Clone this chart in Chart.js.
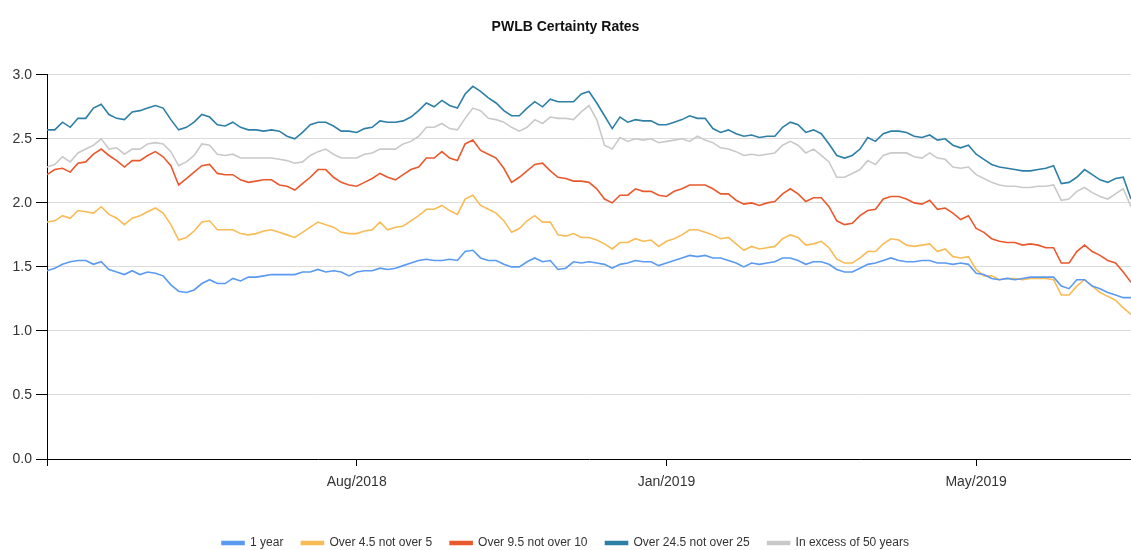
<!DOCTYPE html>
<html>
<head>
<meta charset="utf-8">
<script src="https://cdn.jsdelivr.net/npm/chart.js@4.4.1/dist/chart.umd.min.js"></script>
<style>
  html, body { margin: 0; padding: 0; background: #fff; }
  canvas { display: block; }
</style>
</head>
<body>
<canvas id="pwlb" width="1131" height="550"></canvas>
<script>
// ----- data (one value per sample) -----
const tickPositions = [0, 40, 80, 120];
const tickLabels = ['', 'Aug/2018', 'Jan/2019', 'May/2019'];
const yTicks = [0, 0.5, 1, 1.5, 2, 2.5, 3];

const seriesNames = ['1 year', 'Over 4.5 not over 5', 'Over 9.5 not over 10', 'Over 24.5 not over 25', 'In excess of 50 years'];
const seriesColors = ['#5a9af0', '#f9bb55', '#e9592d', '#2d7fa6', '#c9c9c9'];

const oneYear = [
  1.47, 1.49, 1.52, 1.54, 1.55, 1.55, 1.52, 1.54, 1.48, 1.46,
  1.44, 1.47, 1.44, 1.46, 1.45, 1.43, 1.36, 1.31, 1.30, 1.32,
  1.37, 1.40, 1.37, 1.37, 1.41, 1.39, 1.42, 1.42, 1.43, 1.44,
  1.44, 1.44, 1.44, 1.46, 1.46, 1.48, 1.46, 1.47, 1.46, 1.43,
  1.46, 1.47, 1.47, 1.49, 1.48, 1.49, 1.51, 1.53, 1.55, 1.56,
  1.55, 1.55, 1.56, 1.55, 1.62, 1.63, 1.57, 1.55, 1.55, 1.52,
  1.50, 1.50, 1.54, 1.57, 1.54, 1.55, 1.48, 1.49, 1.54, 1.53,
  1.54, 1.53, 1.52, 1.49, 1.52, 1.53, 1.55, 1.54, 1.54, 1.51,
  1.53, 1.55, 1.57, 1.59, 1.58, 1.59, 1.57, 1.57, 1.55, 1.53,
  1.50, 1.53, 1.52, 1.53, 1.54, 1.57, 1.57, 1.55, 1.52, 1.54,
  1.54, 1.52, 1.48, 1.46, 1.46, 1.49, 1.52, 1.53, 1.55, 1.57,
  1.55, 1.54, 1.54, 1.55, 1.55, 1.53, 1.53, 1.52, 1.53, 1.52,
  1.45, 1.44, 1.41, 1.40, 1.41, 1.40, 1.41, 1.42, 1.42, 1.42,
  1.42, 1.35, 1.33, 1.40, 1.40, 1.35, 1.33, 1.30, 1.28, 1.26,
  1.26
];

const over4_5 = [
  1.85, 1.86, 1.90, 1.88, 1.94, 1.93, 1.92, 1.97, 1.91, 1.88,
  1.83, 1.88, 1.90, 1.93, 1.96, 1.92, 1.83, 1.71, 1.73, 1.78,
  1.85, 1.86, 1.79, 1.79, 1.79, 1.76, 1.75, 1.76, 1.78, 1.79,
  1.77, 1.75, 1.73, 1.77, 1.81, 1.85, 1.83, 1.81, 1.77, 1.76,
  1.76, 1.78, 1.79, 1.85, 1.79, 1.81, 1.82, 1.86, 1.90, 1.95,
  1.95, 1.98, 1.94, 1.91, 2.03, 2.06, 1.98, 1.95, 1.92, 1.86,
  1.77, 1.80, 1.86, 1.90, 1.85, 1.85, 1.75, 1.74, 1.76, 1.73,
  1.73, 1.71, 1.68, 1.64, 1.69, 1.69, 1.72, 1.70, 1.71, 1.66,
  1.70, 1.72, 1.75, 1.79, 1.79, 1.77, 1.75, 1.72, 1.73, 1.68,
  1.63, 1.66, 1.64, 1.65, 1.66, 1.72, 1.75, 1.73, 1.67, 1.68,
  1.70, 1.65, 1.56, 1.53, 1.53, 1.57, 1.62, 1.62, 1.68, 1.72,
  1.71, 1.67, 1.66, 1.67, 1.68, 1.62, 1.64, 1.58, 1.57, 1.58,
  1.48, 1.43, 1.43, 1.40, 1.41, 1.41, 1.40, 1.41, 1.41, 1.41,
  1.40, 1.28, 1.28, 1.35, 1.40, 1.35, 1.30, 1.27, 1.24, 1.18,
  1.13
];

const over9_5 = [
  2.22, 2.26, 2.27, 2.24, 2.31, 2.32, 2.38, 2.42, 2.37, 2.33,
  2.28, 2.33, 2.33, 2.37, 2.40, 2.36, 2.29, 2.14, 2.19, 2.24,
  2.29, 2.30, 2.23, 2.22, 2.22, 2.18, 2.16, 2.17, 2.18, 2.18,
  2.14, 2.13, 2.10, 2.15, 2.20, 2.26, 2.26, 2.20, 2.16, 2.14,
  2.13, 2.16, 2.19, 2.23, 2.20, 2.18, 2.22, 2.26, 2.28, 2.35,
  2.35, 2.40, 2.35, 2.33, 2.46, 2.49, 2.41, 2.38, 2.35, 2.27,
  2.16, 2.20, 2.25, 2.30, 2.31, 2.25, 2.20, 2.19, 2.17, 2.17,
  2.16, 2.11, 2.03, 2.00, 2.06, 2.06, 2.11, 2.09, 2.09, 2.06,
  2.05, 2.09, 2.11, 2.14, 2.14, 2.14, 2.11, 2.07, 2.07, 2.02,
  1.99, 2.00, 1.98, 2.00, 2.01, 2.07, 2.11, 2.07, 2.01, 2.04,
  2.04, 1.97, 1.86, 1.83, 1.84, 1.90, 1.94, 1.95, 2.03, 2.05,
  2.05, 2.03, 2.00, 1.99, 2.02, 1.95, 1.96, 1.92, 1.87, 1.90,
  1.80, 1.77, 1.72, 1.70, 1.69, 1.69, 1.67, 1.68, 1.67, 1.65,
  1.65, 1.53, 1.53, 1.62, 1.67, 1.62, 1.59, 1.55, 1.53, 1.46,
  1.38
];

const over24_5 = [
  2.57, 2.57, 2.63, 2.59, 2.66, 2.66, 2.74, 2.77, 2.69, 2.66,
  2.65, 2.71, 2.72, 2.74, 2.76, 2.74, 2.65, 2.57, 2.59, 2.63,
  2.69, 2.67, 2.61, 2.60, 2.63, 2.59, 2.57, 2.57, 2.56, 2.57,
  2.56, 2.52, 2.50, 2.55, 2.61, 2.63, 2.63, 2.60, 2.56, 2.56,
  2.55, 2.58, 2.59, 2.64, 2.63, 2.63, 2.64, 2.67, 2.72, 2.78,
  2.75, 2.80, 2.76, 2.74, 2.85, 2.91, 2.87, 2.82, 2.78, 2.72,
  2.68, 2.68, 2.74, 2.79, 2.75, 2.81, 2.79, 2.79, 2.79, 2.85,
  2.87, 2.78, 2.68, 2.58, 2.67, 2.63, 2.65, 2.64, 2.64, 2.61,
  2.61, 2.63, 2.65, 2.68, 2.66, 2.66, 2.58, 2.55, 2.57, 2.54,
  2.52, 2.53, 2.51, 2.52, 2.52, 2.59, 2.63, 2.61, 2.55, 2.57,
  2.54, 2.46, 2.37, 2.35, 2.37, 2.42, 2.51, 2.48, 2.54, 2.56,
  2.56, 2.55, 2.52, 2.51, 2.53, 2.49, 2.50, 2.45, 2.43, 2.45,
  2.38, 2.34, 2.30, 2.28, 2.27, 2.26, 2.25, 2.25, 2.26, 2.27,
  2.29, 2.15, 2.16, 2.20, 2.26, 2.22, 2.18, 2.16, 2.19, 2.20,
  2.03
];

const over50 = [
  2.28, 2.30, 2.36, 2.32, 2.39, 2.42, 2.45, 2.50, 2.42, 2.43,
  2.38, 2.42, 2.42, 2.46, 2.47, 2.46, 2.40, 2.29, 2.32, 2.37,
  2.46, 2.45, 2.38, 2.37, 2.38, 2.35, 2.35, 2.35, 2.35, 2.35,
  2.34, 2.33, 2.31, 2.32, 2.37, 2.40, 2.42, 2.38, 2.35, 2.35,
  2.35, 2.38, 2.39, 2.42, 2.42, 2.42, 2.46, 2.48, 2.52, 2.59,
  2.59, 2.62, 2.58, 2.57, 2.66, 2.74, 2.72, 2.66, 2.65, 2.63,
  2.59, 2.56, 2.59, 2.65, 2.62, 2.67, 2.66, 2.66, 2.65, 2.71,
  2.76, 2.65, 2.45, 2.42, 2.51, 2.48, 2.50, 2.49, 2.50, 2.47,
  2.48, 2.49, 2.50, 2.48, 2.52, 2.49, 2.47, 2.43, 2.42, 2.40,
  2.37, 2.38, 2.37, 2.38, 2.39, 2.45, 2.48, 2.45, 2.39, 2.42,
  2.37, 2.32, 2.20, 2.20, 2.23, 2.26, 2.33, 2.30, 2.37, 2.39,
  2.39, 2.39, 2.36, 2.35, 2.39, 2.35, 2.34, 2.28, 2.27, 2.28,
  2.22, 2.19, 2.16, 2.14, 2.13, 2.13, 2.12, 2.12, 2.13, 2.13,
  2.14, 2.02, 2.03, 2.09, 2.12, 2.08, 2.05, 2.03, 2.07, 2.11,
  1.97
];

const allSeries = [oneYear, over4_5, over9_5, over24_5, over50];

Chart.defaults.font.family = "'Liberation Sans', Arial, sans-serif";
Chart.defaults.color = '#333';

new Chart(document.getElementById('pwlb'), {
    type: 'line',
    data: {
        datasets: allSeries.map((vals, k) => ({
            label: seriesNames[k],
            data: vals.map((y, i) => ({ x: i, y })),
            borderColor: seriesColors[k],
            backgroundColor: seriesColors[k],
            borderWidth: 1.6,
            pointRadius: 0,
            tension: 0,
            fill: false
        }))
    },
    options: {
        responsive: false,
        animation: false,
        devicePixelRatio: 1,
        layout: { padding: { top: 0, right: 0, left: 0, bottom: -9 } },
        scales: {
            x: {
                type: 'linear',
                min: 0,
                max: oneYear.length - 1,
                afterBuildTicks: axis => { axis.ticks = tickPositions.map(v => ({ value: v })); },
                afterFit: s => { s.height = 60; },
                border: { color: '#000', width: 1 },
                grid: { drawOnChartArea: false, drawTicks: true, tickLength: 7, tickColor: '#000' },
                ticks: {
                    autoSkip: false,
                    maxRotation: 0,
                    padding: 8,
                    color: '#333',
                    font: { size: 14 },
                    callback: v => tickLabels[tickPositions.indexOf(v)] ?? ''
                }
            },
            y: {
                min: 0,
                max: 3,
                afterBuildTicks: axis => { axis.ticks = yTicks.map(v => ({ value: v })); },
                afterFit: s => { s.width = 47; },
                border: { color: '#000', width: 1 },
                grid: { color: '#dcdcdc', tickColor: '#000', tickLength: 11 },
                ticks: {
                    padding: 4,
                    color: '#333',
                    font: { size: 14 },
                    callback: v => v.toFixed(1)
                }
            }
        },
        plugins: {
            title: {
                display: true,
                text: 'PWLB Certainty Rates',
                color: '#111',
                font: { size: 14, weight: 'bold' },
                padding: { top: 19, bottom: 39 }
            },
            legend: {
                position: 'bottom',
                labels: {
                    boxWidth: 22,
                    boxHeight: 3,
                    padding: 18,
                    color: '#333',
                    font: { size: 12 }
                }
            },
            tooltip: { enabled: false }
        }
    }
});
</script>
</body>
</html>
